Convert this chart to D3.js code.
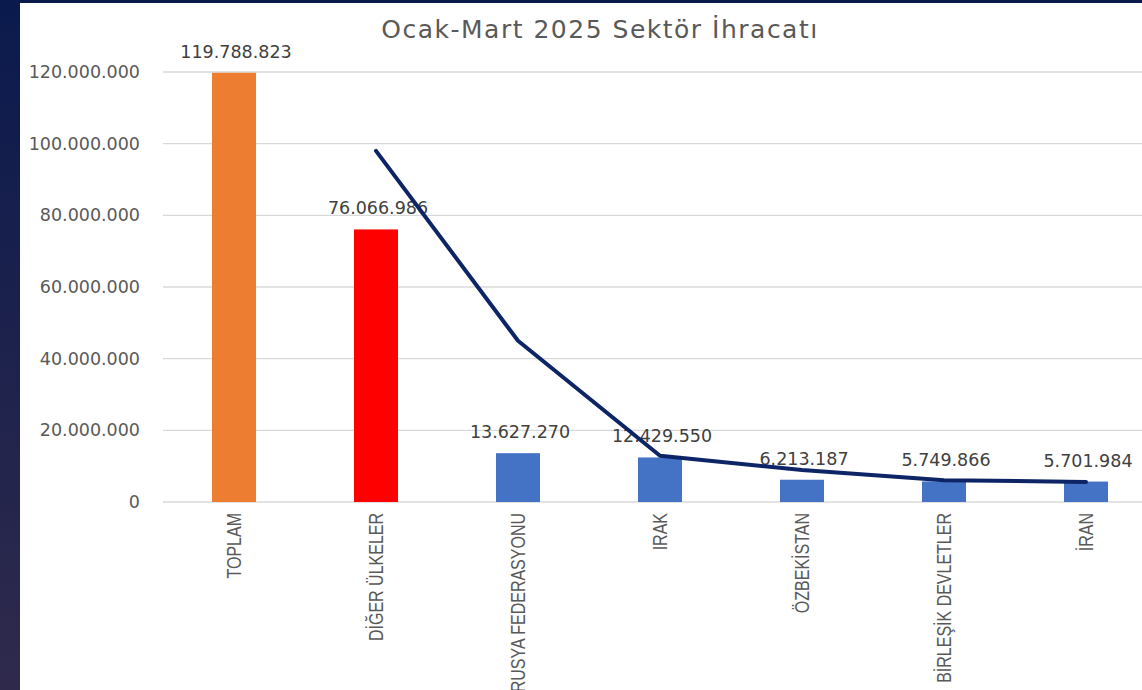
<!DOCTYPE html>
<html>
<head>
<meta charset="utf-8">
<script src="https://cdn.jsdelivr.net/npm/d3@7"></script>
<style>
  html, body { margin: 0; padding: 0; background: #1a1f4a; }
  svg { display: block; }
</style>
</head>
<body>
<div id="chart"></div>
<script>
// Ocak-Mart 2025 sektör ihracatı: sütun + çizgi

const categories = ['TOPLAM', 'DİĞER ÜLKELER', 'RUSYA FEDERASYONU', 'IRAK', 'ÖZBEKİSTAN', 'BİRLEŞİK DEVLETLER', 'İRAN'];
const barValues = [119788823, 76066986, 13627270, 12429550, 6213187, 5749866, 5701984];
const barColors = ['#ED7D31', '#FF0000', '#4472C4', '#4472C4', '#4472C4', '#4472C4', '#4472C4'];
// çizgi serisi
const lineValues = [null, 98000000, 45000000, 12900000, 8900000, 6100000, 5600000];
const yTicks = [0, 20000000, 40000000, 60000000, 80000000, 100000000, 120000000];

const W = 1142, H = 690;
const fmt = v => d3.format(',')(v).replace(/,/g, '.');

const svg = d3.select('#chart').append('svg')
    .attr('width', W)
    .attr('height', H);

// arka plan: sol koyu şerit + beyaz alan
const grad = svg.append('defs').append('linearGradient')
    .attr('id', 'side').attr('x1', 0).attr('y1', 0).attr('x2', 0).attr('y2', 1);
grad.append('stop').attr('offset', '0%').attr('stop-color', '#0b1a4d');
grad.append('stop').attr('offset', '100%').attr('stop-color', '#2f2a4c');
svg.append('rect').attr('width', W).attr('height', H).attr('fill', 'url(#side)');
svg.append('rect').attr('x', 20).attr('y', 3).attr('width', W - 20).attr('height', H - 3).attr('fill', '#fff');

const x = d3.scaleBand()
    .domain(categories)
    .range([163, 1157])
    .paddingInner(0.69)
    .paddingOuter(0.345);

const y = d3.scaleLinear()
    .domain([0, 120000000])
    .range([502, 72]);

// ızgara çizgileri
svg.append('g')
    .selectAll('line')
    .data(yTicks)
    .join('line')
    .attr('x1', 163)
    .attr('x2', W)
    .attr('y1', d => y(d))
    .attr('y2', d => y(d))
    .attr('stroke', '#d9d9d9')
    .attr('stroke-width', 1.3);

// y ekseni etiketleri
svg.append('g')
    .selectAll('text')
    .data(yTicks)
    .join('text')
    .attr('x', 140)
    .attr('y', d => y(d) + 6)
    .attr('text-anchor', 'end')
    .style('font-family', 'DejaVu Sans, sans-serif')
    .style('font-size', '17.5px')
    .style('fill', '#595959')
    .text(d => fmt(d));

// sütunlar
svg.append('g')
    .selectAll('rect')
    .data(barValues)
    .join('rect')
    .attr('x', (d, i) => x(categories[i]))
    .attr('y', d => y(d))
    .attr('width', x.bandwidth())
    .attr('height', d => y(0) - y(d))
    .attr('fill', (d, i) => barColors[i]);

// veri etiketleri
svg.append('g')
    .selectAll('text')
    .data(barValues)
    .join('text')
    .attr('x', (d, i) => x(categories[i]) + x.bandwidth() / 2 + 2)
    .attr('y', d => y(d) - 15)
    .attr('text-anchor', 'middle')
    .style('font-family', 'DejaVu Sans, sans-serif')
    .style('font-size', '17.5px')
    .style('fill', '#404040')
    .text(d => fmt(d));

// çizgi
const line = d3.line()
    .defined(d => d !== null)
    .x((d, i) => x(categories[i]) + x.bandwidth() / 2)
    .y(d => y(d));

svg.append('path')
    .datum(lineValues)
    .attr('d', line)
    .attr('fill', 'none')
    .attr('stroke', '#0d2566')
    .attr('stroke-width', 4)
    .attr('stroke-linecap', 'round')
    .attr('stroke-linejoin', 'round');

// kategori etiketleri (dikey, dar yazı)
svg.append('g')
    .selectAll('text')
    .data(categories)
    .join('text')
    .attr('transform', d => `translate(${x(d) + x.bandwidth() / 2 + 7},513) rotate(-90) scale(0.8,1)`)
    .attr('text-anchor', 'end')
    .style('font-family', 'Liberation Sans, Arial, sans-serif')
    .style('font-size', '20px')
    .style('fill', '#595959')
    .text(d => d);

// başlık
svg.append('text')
    .attr('x', 600)
    .attr('y', 38)
    .attr('text-anchor', 'middle')
    .style('font-family', 'DejaVu Sans, sans-serif')
    .style('font-size', '25px')
    .style('letter-spacing', '1.5px')
    .style('fill', '#595959')
    .text('Ocak-Mart 2025 Sektör İhracatı');
</script>
</body>
</html>
